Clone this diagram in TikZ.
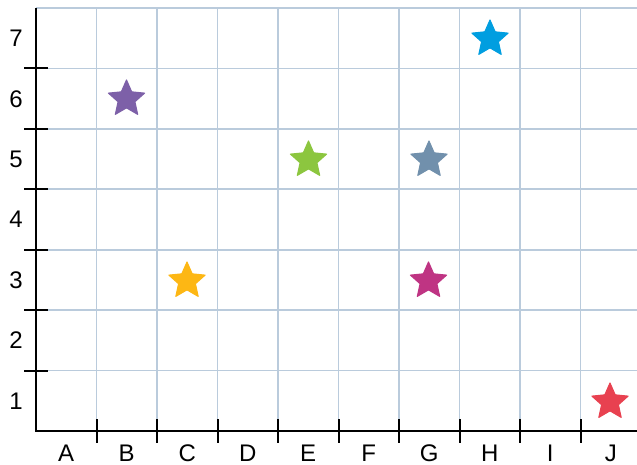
\documentclass[tikz,border=0pt]{standalone}
\usepackage{fontspec}
\setmainfont{Liberation Sans}
\usetikzlibrary{shapes.geometric}
\definecolor{gridc}{HTML}{BACBDC}
\definecolor{cpurple}{HTML}{7D60A8}
\definecolor{cblue}{HTML}{009EE0}
\definecolor{cgreen}{HTML}{8CC63F}
\definecolor{cgrayblue}{HTML}{7190AC}
\definecolor{cyellow}{HTML}{FDB714}
\definecolor{cmagenta}{HTML}{BF3483}
\definecolor{cred}{HTML}{E84150}
\tikzset{
  gridline/.style={draw=gridc, line width=1.3},
  axisline/.style={draw=black, line width=1.8},
  tickline/.style={draw=black, line width=1.5},
  lbl/.style={font=\fontsize{18}{20}\selectfont, inner sep=0pt},
  starmark/.style={star, star points=5, star point ratio=2.15, minimum size=28.5pt, inner sep=0pt, fill=#1, draw=#1, line width=0.8, line join=round},
}
\begin{document}
\begin{tikzpicture}[x=0.75pt, y=-0.75pt]
\useasboundingbox (0,0) rectangle (637,465);
\fill[white] (0,0) rectangle (637,465);
% grid
\foreach \k in {1,...,9} {
  \draw[gridline] ({36+60.5*\k},8) -- ({36+60.5*\k},431);
}
\foreach \k in {1,...,7} {
  \draw[gridline] (36,{431-60.43*\k}) -- (637,{431-60.43*\k});
}
% axes
\draw[axisline] (36,8) -- (36,431) -- (637,431);
\foreach \k in {1,...,6} {
  \draw[tickline] (24,{431-60.43*\k}) -- (48,{431-60.43*\k});
}
\foreach \k in {1,...,9} {
  \draw[tickline] ({36+60.5*\k},419) -- ({36+60.5*\k},443);
}
% labels
\foreach \l [count=\i from 0] in {A,B,C,D,E,F,G,H,I,J} {
  \node[lbl] (col\l) at ({66.25+60.5*\i},453) {\l};
}
\foreach \n in {1,...,7} {
  \node[lbl] (row\n) at (16,{401-60.43*(\n-1)}) {\n};
}
% stars
\node[starmark=cpurple] (sB6) at (126.5,99) {};
\node[starmark=cblue] (sH7) at (490,39) {};
\node[starmark=cgreen] (sE5) at (308.5,160) {};
\node[starmark=cgrayblue] (sG5) at (429,160) {};
\node[starmark=cyellow] (sC3) at (187,281) {};
\node[starmark=cmagenta] (sG3) at (428.5,281) {};
\node[starmark=cred] (sJ1) at (610,402) {};
\end{tikzpicture}
\end{document}
